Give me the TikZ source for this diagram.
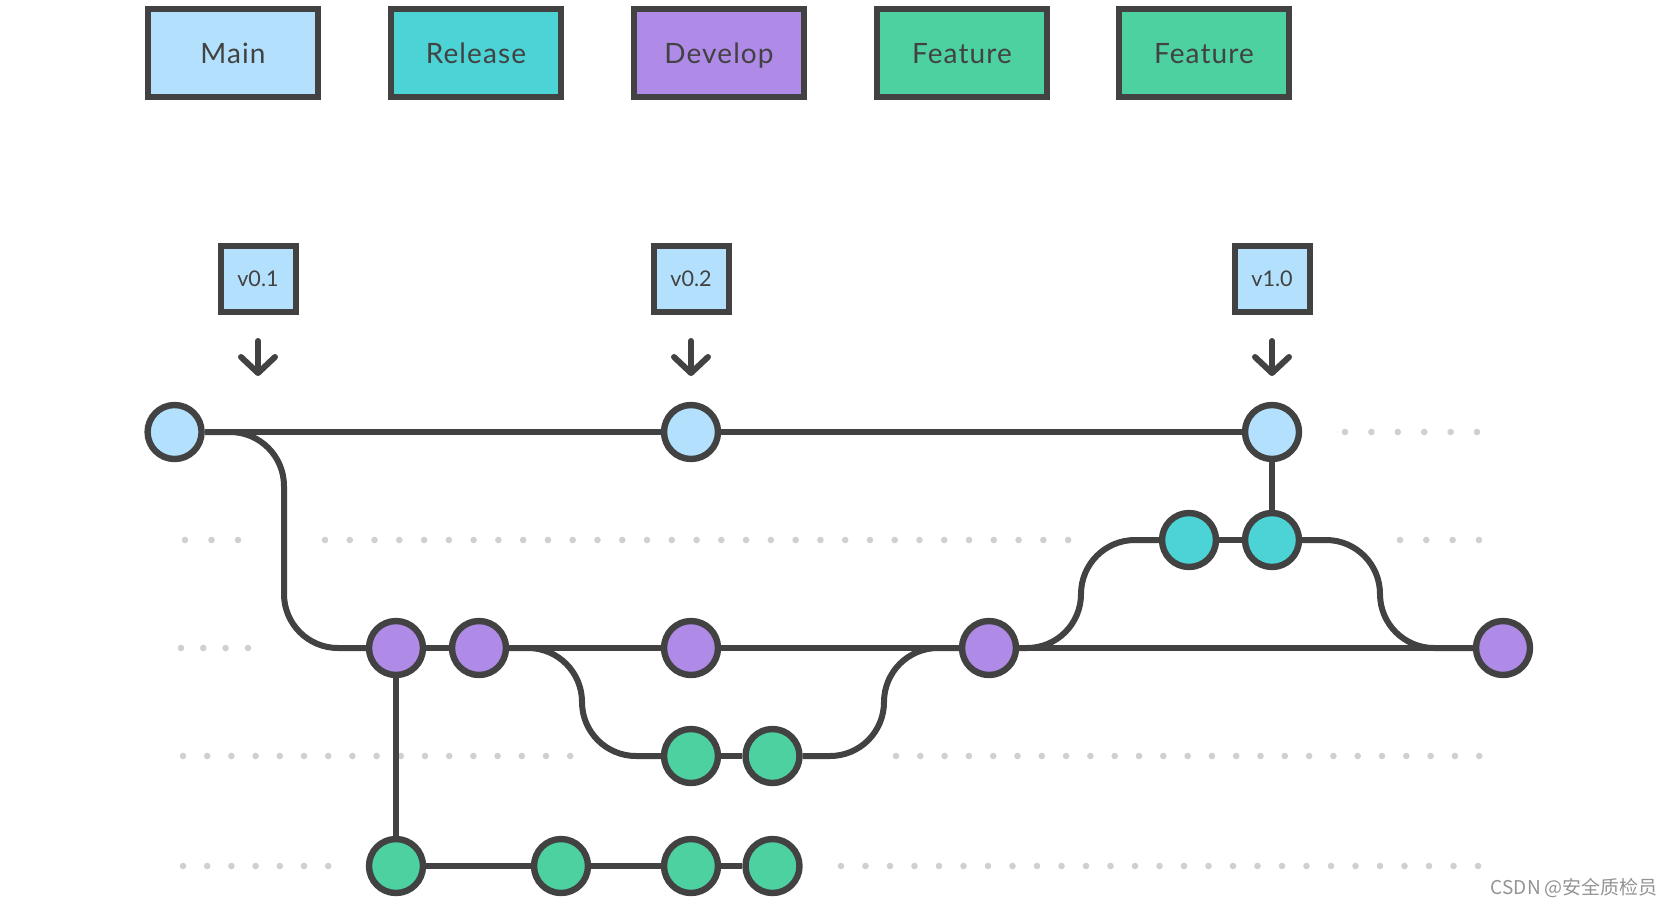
\documentclass[tikz,border=0pt]{standalone}
\usepackage{fontspec}
\setmainfont{Lato}
\newfontfamily\cjk{Noto Sans CJK SC}
\usetikzlibrary{arrows.meta,backgrounds}
\definecolor{ink}{HTML}{424242}
\definecolor{mainc}{HTML}{B3E1FD}
\definecolor{relc}{HTML}{4CD3D6}
\definecolor{devc}{HTML}{AF8AE7}
\definecolor{featc}{HTML}{4DD1A0}
\definecolor{dotc}{HTML}{D0D0D0}

\begin{document}
\begin{tikzpicture}[x=0.5pt, y=-0.5pt,
  commit/.style = {draw=ink, circle, line width=3.2pt, minimum size=27pt, inner sep=0pt},
  legend/.style = {draw=ink, line width=3.2pt, minimum width=85pt, minimum height=44pt, inner sep=0pt, text height=10pt, text depth=0pt, text=ink, font=\fontsize{14}{14}\selectfont\addfontfeature{LetterSpace=4}},
  tagbox/.style = {draw=ink, fill=mainc, line width=3pt, minimum width=37.5pt, minimum height=33pt, inner sep=0pt, text height=7.6pt, text depth=0pt, text=ink, font=\fontsize{10.8}{10.8}\selectfont},
  wire/.style = {draw=ink, line width=3pt, rounded corners=27pt},
  tagarrow/.style = {draw=ink, line width=3pt, line cap=round, shorten <=13pt, -{Straight Barb[length=8pt, width=17pt, round]}},
  dot/.style = {fill=dotc}]
\useasboundingbox (0,0) rectangle (1680,906);

% branch legend
\node[legend, fill=mainc] (lmain) at (233,53) {Main};
\node[legend, fill=relc] (lrel) at (476,53) {Release};
\node[legend, fill=devc] (ldev) at (719,53) {Develop};
\node[legend, fill=featc] (lfeat1) at (962,53) {Feature};
\node[legend, fill=featc] (lfeat2) at (1204,53) {Feature};

% tags
\node[tagbox] (v01) at (258,279) {v0.1};
\node[tagbox] (v02) at (691,279) {v0.2};
\node[tagbox] (v10) at (1272,279) {v1.0};
\coordinate (p01) at (258,376);
\coordinate (p02) at (691,376);
\coordinate (p10) at (1272,376);

% commits
\node[commit, fill=mainc] (m0) at (174.6,432) {};
\node[commit, fill=mainc] (m1) at (691,432) {};
\node[commit, fill=mainc] (m2) at (1272,432) {};
\node[commit, fill=relc] (r1) at (1189,540) {};
\node[commit, fill=relc] (r2) at (1272,540) {};
\node[commit, fill=devc] (d1) at (396,648) {};
\node[commit, fill=devc] (d2) at (479,648) {};
\node[commit, fill=devc] (d3) at (691,648) {};
\node[commit, fill=devc] (d4) at (989,648) {};
\node[commit, fill=devc] (d5) at (1503,648) {};
\node[commit, fill=featc] (fa1) at (691,756) {};
\node[commit, fill=featc] (fa2) at (772.5,756) {};
\node[commit, fill=featc] (fb1) at (396,866) {};
\node[commit, fill=featc] (fb2) at (561,866) {};
\node[commit, fill=featc] (fb3) at (691,866) {};
\node[commit, fill=featc] (fb4) at (772.5,866) {};

\draw[tagarrow] (v01) -- (p01);
\draw[tagarrow] (v02) -- (p02);
\draw[tagarrow] (v10) -- (p10);

\node[text=gray!85, font=\cjk\fontsize{9.5}{9.5}\selectfont, anchor=east] (mark) at (1665,888) {CSDN @安全质检员};

\begin{scope}[on background layer]
% dotted lanes
\foreach \x in {0,...,5} \fill[dot] (1345+26.4*\x,432) circle (1.65pt);
\foreach \x in {0,1,2} \fill[dot] (185+26.5*\x,540) circle (1.65pt);
\foreach \x in {0,...,30} \fill[dot] (325+24.77*\x,540) circle (1.65pt);
\foreach \x in {0,...,3} \fill[dot] (1400+26.3*\x,540) circle (1.65pt);
\foreach \x in {0,...,3} \fill[dot] (181+22.3*\x,648) circle (1.65pt);
\foreach \x in {0,...,16} \fill[dot] (183+24.2*\x,756) circle (1.65pt);
\foreach \x in {0,...,24} \fill[dot] (896+24.3*\x,756) circle (1.65pt);
\foreach \x in {0,...,6} \fill[dot] (183+24.2*\x,866) circle (1.65pt);
\foreach \x in {0,...,26} \fill[dot] (841+24.5*\x,866) circle (1.65pt);

% straight history
\draw[wire] (m0) -- (m1) -- (m2) -- (r2);
\draw[wire] (r1) -- (r2);
\draw[wire] (d1) -- (d2) -- (d3) -- (d4) -- (d5);
\draw[wire] (fa1) -- (fa2);
\draw[wire] (d1) -- (fb1) -- (fb2) -- (fb3) -- (fb4);

% branch curves
\draw[wire] (m0) -- (284,432) -- (284,648) -- (d1);
\draw[wire] (d2) -- (582,648) -- (582,756) -- (fa1);
\draw[wire] (fa2) -- (884,756) -- (884,648) -- (d4);
\draw[wire] (d4) -- (1081,648) -- (1081,540) -- (r1);
\draw[wire] (r2) -- (1380,540) -- (1380,648) -- (d5);
\end{scope}
\end{tikzpicture}
\end{document}
